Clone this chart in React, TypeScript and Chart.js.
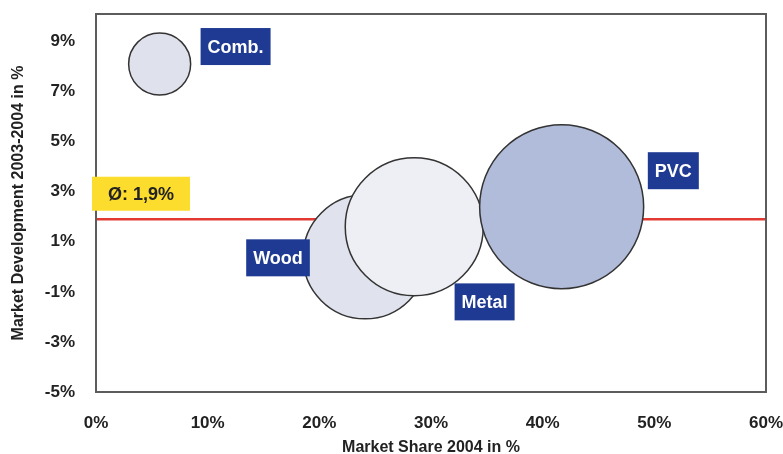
import React, { useEffect, useRef } from "react";
import { Chart, registerables } from "chart.js";

Chart.register(...registerables);

// ---- data ----
const categories = ["Comb.", "Wood", "Metal", "PVC"];
const marketShare = [5.7, 24.1, 28.5, 41.7]; // x, %
const marketDevelopment = [8.1, 0.4, 1.6, 2.4]; // y, %
const bubbleRadius = [31, 62, 69, 82]; // px (Chart.js bubble r)
const averageDevelopment = 1.9;
const averageLabel = "Ø: 1,9%";
const xTickValues = [0, 10, 20, 30, 40, 50, 60];
const yTickValues = [-5, -3, -1, 1, 3, 5, 7, 9];
const xTitle = "Market Share 2004 in %";
const yTitle = "Market Development 2003-2004 in %";

// ---- styling / annotation placement (data coordinates) ----
const fillColors = ["#dfe2ec", "#e0e3ed", "#eeeff4", "#b1bcda"];
const labelAnchors = [
  { x: 12.5, y: 8.8 },
  { x: 16.3, y: 0.36 },
  { x: 34.8, y: -1.4 },
  { x: 51.7, y: 3.84 },
];
const averageAnchor = { x: 4.03, y: 2.92 };
const FONT = "'Liberation Sans', Arial, sans-serif";

export default function App() {
  const canvasRef = useRef<HTMLCanvasElement | null>(null);

  useEffect(() => {
    const canvas = canvasRef.current;
    if (!canvas) return;

    const avgLinePlugin = {
      id: "avgLine",
      beforeDatasetsDraw(chart: any) {
        const { ctx, chartArea, scales } = chart;
        const y = scales.y.getPixelForValue(averageDevelopment);
        ctx.save();
        ctx.strokeStyle = "#e23a33";
        ctx.lineWidth = 2.5;
        ctx.beginPath();
        ctx.moveTo(chartArea.left, y);
        ctx.lineTo(chartArea.right, y);
        ctx.stroke();
        ctx.strokeStyle = "#5c5c5c";
        ctx.lineWidth = 2;
        ctx.strokeRect(
          chartArea.left,
          chartArea.top,
          chartArea.right - chartArea.left,
          chartArea.bottom - chartArea.top
        );
        ctx.restore();
      },
    };

    const labelPlugin = {
      id: "bubbleLabels",
      afterDatasetsDraw(chart: any) {
        const { ctx, scales } = chart;
        ctx.save();
        ctx.textAlign = "center";
        ctx.textBaseline = "middle";
        ctx.font = `bold 18px ${FONT}`;
        categories.forEach((name, i) => {
          const cx = scales.x.getPixelForValue(labelAnchors[i].x);
          const cy = scales.y.getPixelForValue(labelAnchors[i].y);
          const w = ctx.measureText(name).width + 14;
          const h = 37;
          ctx.fillStyle = "#1f3a93";
          ctx.fillRect(cx - w / 2, cy - h / 2, w, h);
          ctx.fillStyle = "#ffffff";
          ctx.fillText(name, cx, cy + 1);
        });
        // average label
        const ax = scales.x.getPixelForValue(averageAnchor.x);
        const ay = scales.y.getPixelForValue(averageAnchor.y);
        const aw = 98;
        const ah = 34;
        ctx.fillStyle = "#fcdc2c";
        ctx.fillRect(ax - aw / 2, ay - ah / 2, aw, ah);
        ctx.fillStyle = "#222222";
        ctx.fillText(averageLabel, ax, ay + 1);
        ctx.restore();
      },
    };

    const chart = new Chart(canvas, {
      type: "bubble",
      data: {
        datasets: [
          {
            label: "Materials",
            data: categories.map((_, i) => ({
              x: marketShare[i],
              y: marketDevelopment[i],
              r: bubbleRadius[i],
            })),
            backgroundColor: fillColors,
            borderColor: "#333333",
            borderWidth: 1.5,
          },
        ],
      },
      options: {
        animation: false,
        responsive: false,
        maintainAspectRatio: false,
        devicePixelRatio: 1,
        layout: {
          autoPadding: false,
          padding: { top: 14, right: 17, left: 0, bottom: 0 },
        },
        plugins: {
          legend: { display: false },
          tooltip: { enabled: false },
        },
        scales: {
          x: {
            type: "linear",
            min: 0,
            max: 60,
            afterFit: (s: any) => {
              s.height = 62;
              s.paddingLeft = 0;
              s.paddingRight = 0;
            },
            afterBuildTicks: (s: any) => {
              s.ticks = xTickValues.map((v) => ({ value: v }));
            },
            grid: { display: false, drawTicks: false },
            border: { display: false },
            ticks: {
              padding: 21,
              color: "#222222",
              font: { family: FONT, size: 17, weight: "bold" },
              callback: (v: any) => `${v}%`,
            },
            title: {
              display: true,
              text: xTitle,
              color: "#222222",
              font: { family: FONT, size: 16, weight: "bold", lineHeight: 0.8 },
              padding: { top: 0, bottom: 0 },
            },
          },
          y: {
            type: "linear",
            min: -5,
            max: 10.1,
            afterFit: (s: any) => {
              s.width = 96;
              s.paddingTop = 0;
              s.paddingBottom = 0;
            },
            afterBuildTicks: (s: any) => {
              s.ticks = yTickValues.map((v) => ({ value: v }));
            },
            grid: { display: false, drawTicks: false },
            border: { display: false },
            ticks: {
              padding: 21,
              color: "#222222",
              font: { family: FONT, size: 17, weight: "bold" },
              callback: (v: any) => `${v}%`,
            },
            title: {
              display: true,
              text: yTitle,
              color: "#222222",
              font: { family: FONT, size: 16, weight: "bold", lineHeight: 1 },
              padding: { top: 11, bottom: 0 },
            },
          },
        },
      },
      plugins: [avgLinePlugin, labelPlugin],
    });

    return () => chart.destroy();
  }, []);

  return (
    <div
      style={{
        position: "fixed",
        left: 0,
        top: 0,
        width: 783,
        height: 454,
        background: "#ffffff",
      }}
    >
      <canvas
        ref={canvasRef}
        width={783}
        height={454}
        style={{ display: "block", width: 783, height: 454 }}
      />
    </div>
  );
}
